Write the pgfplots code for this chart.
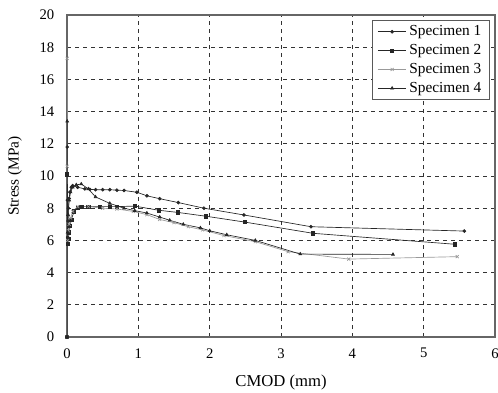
\documentclass[border=0pt]{standalone}
\usepackage{fontspec}
\setmainfont{Liberation Serif}
\usepackage{pgfplots}
\pgfplotsset{compat=1.18}
\begin{document}
\begin{tikzpicture}
\begin{axis}[
  scale only axis,
  width=321pt, height=241.5pt,
  xmin=0, xmax=6, ymin=0, ymax=20,
  xtick={0,1,...,6}, ytick={0,2,...,20},
  major tick length=0pt,
  grid=major,
  grid style={black!80, dashed, line width=0.5pt},
  axis line style={gray!80!black, line width=0.8pt},
  tick label style={font=\fontsize{11}{12}\selectfont},
  yticklabel style={xshift=-6pt},
  xticklabel style={yshift=-5pt},
  /pgf/number format/assume math mode=true,
  xlabel={CMOD (mm)}, ylabel={Stress (MPa)},
  xlabel style={font=\fontsize{12.5}{14}\selectfont, at={(axis description cs:0.5,-0.141)}, anchor=center},
  ylabel style={font=\fontsize{11.5}{13}\selectfont, at={(axis description cs:-0.1215,0.5)}, anchor=center},
  legend style={at={(0.988,0.985)}, anchor=north east, draw=gray!70!black, line width=0.8pt,
    font=\fontsize{11.5}{12}\selectfont, row sep=1pt, inner ysep=2pt, inner xsep=4pt},
  legend cell align=left,
  legend image code/.code={\draw[#1, line width=0.5pt] (0cm,0cm) -- (0.75cm,0cm);
    \draw[#1, only marks] plot coordinates {(0.375cm,0cm)};},
  every axis plot/.append style={line width=0.5pt},
]
\addplot[black!85, mark=*, mark size=1.1pt] coordinates {
(0,0)(0.003,11.8)(0.006,8.5)(0.01,6.2)(0.015,7.2)(0.02,8)(0.03,8.6)(0.04,9.0)(0.06,9.3)(0.08,9.4)(0.15,9.3)(0.25,9.2)(0.32,9.17)(0.4,9.15)(0.5,9.15)(0.6,9.15)(0.7,9.12)(0.8,9.1)(0.98,8.99)(1.12,8.77)(1.3,8.59)(1.56,8.35)(1.92,8.0)(2.48,7.58)(3.42,6.85)(5.57,6.58)};
\addlegendentry{Specimen 1}
\addplot[black!85, mark=square*, mark size=1.2pt] coordinates {
(0,0)(0.003,10.1)(0.01,5.8)(0.02,6.1)(0.03,6.5)(0.045,6.9)(0.06,7.3)(0.1,7.8)(0.15,8.0)(0.2,8.1)(0.3,8.1)(0.46,8.1)(0.6,8.1)(0.7,8.1)(0.95,8.13)(1.29,7.87)(1.55,7.74)(1.95,7.5)(2.49,7.14)(3.45,6.44)(5.44,5.76)};
\addlegendentry{Specimen 2}
\addplot[gray!80, mark=x, mark size=1.6pt] coordinates {
(0,0)(0.002,10.6)(0.003,17.3)(0.008,6)(0.02,6.6)(0.03,7.0)(0.05,7.4)(0.08,7.8)(0.15,8.1)(0.3,8.1)(0.5,8.0)(0.7,7.95)(0.93,7.8)(1.12,7.6)(1.3,7.3)(1.5,7.1)(1.7,6.85)(1.9,6.65)(2.2,6.3)(2.64,5.92)(3.1,5.3)(3.95,4.84)(5.47,4.99)};
\addlegendentry{Specimen 3}
\addplot[black!85, mark=triangle*, mark size=1.2pt] coordinates {
(0,0)(0.003,13.4)(0.008,6.5)(0.015,7.6)(0.03,8.5)(0.05,9.0)(0.08,9.3)(0.13,9.45)(0.2,9.5)(0.3,9.2)(0.4,8.7)(0.6,8.3)(0.8,8.0)(0.95,7.85)(1.12,7.7)(1.3,7.45)(1.44,7.25)(1.63,7.0)(1.87,6.78)(2.0,6.6)(2.24,6.35)(2.64,6.0)(3.27,5.15)(4.57,5.13)};
\addlegendentry{Specimen 4}
\end{axis}
\pgfresetboundingbox
\path[use as bounding box] ([shift={(-50.25pt,-41.25pt)}]current axis.south west) rectangle ([shift={(2.25pt,11.25pt)}]current axis.north east);
\end{tikzpicture}
\end{document}
